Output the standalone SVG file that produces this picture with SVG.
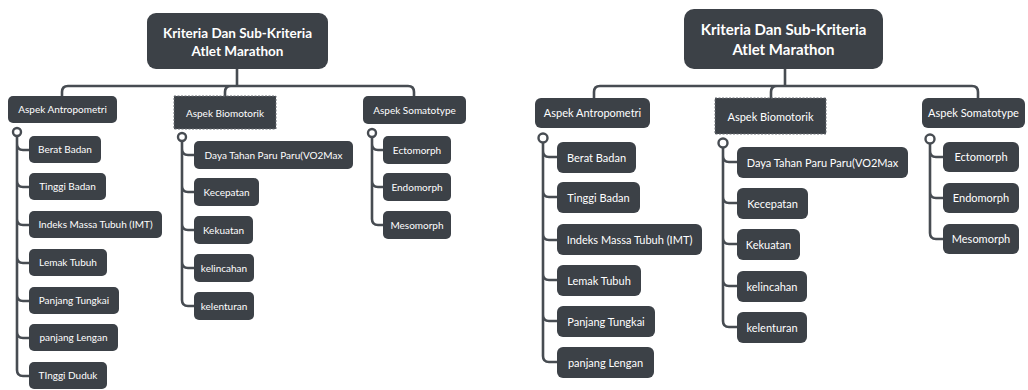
<svg xmlns="http://www.w3.org/2000/svg" width="1028" height="390" viewBox="0 0 1028 390">
<style>
.n{fill:#3c4147}
.sel{fill:#3c4147;stroke:#6a6f75;stroke-width:1;stroke-dasharray:2 1.5}
.c{fill:none;stroke:#474c52;stroke-width:2.6;stroke-linecap:round}
.o{fill:#fff;stroke:#474c52;stroke-width:2.4}
.t{fill:#fff;font-family:Lato,"Noto Sans",sans-serif;text-anchor:middle}
.s{font-size:10px}
.l{font-size:11px}
.r1{font-size:13.5px;font-weight:bold}
.r2{font-size:15px;font-weight:bold}
</style>
<rect width="1028" height="390" fill="#fff"/>
<g id="connectors">
<path class="c" d="M237,69V86M237,86H68Q62,86 62,92V96M237,86H231Q225,86 225,92V96M237,86H408Q414,86 414,92V96"/>
<path class="c" d="M17,136V144Q17,150 23,150H29M17,144V181Q17,187 23,187H29M17,181V219Q17,225 23,225H29M17,219V257Q17,263 23,263H29M17,257V295Q17,301 23,301H29M17,295V332Q17,338 23,338H29M17,332V370Q17,376 23,376H29"/>
<circle class="o" cx="17" cy="132" r="4"/>
<path class="c" d="M182,141V149Q182,155 188,155H194M182,149V186Q182,192 188,192H194M182,186V224Q182,230 188,230H194M182,224V262Q182,268 188,268H194M182,262V300Q182,306 188,306H194"/>
<circle class="o" cx="182" cy="137" r="4"/>
<path class="c" d="M372,137V144Q372,150 378,150H383M372,144V181Q372,187 378,187H383M372,181V219Q372,225 378,225H383"/>
<circle class="o" cx="372" cy="133" r="4"/>
<path class="c" d="M785,69V86M785,86H600Q594,86 594,92V98M785,86H777Q771,86 771,92V98M785,86H972Q978,86 978,92V98"/>
<path class="c" d="M543,142V151Q543,157 549,157H557M543,151V191Q543,197 549,197H557M543,191V234Q543,240 549,240H557M543,234V274Q543,280 549,280H557M543,274V315Q543,321 549,321H557M543,315V356Q543,362 549,362H557"/>
<circle class="o" cx="543" cy="138" r="4.5"/>
<path class="c" d="M723,147V156Q723,162 729,162H737M723,156V197Q723,203 729,203H737M723,197V238Q723,244 729,244H737M723,238V280Q723,286 729,286H737M723,280V321Q723,327 729,327H737"/>
<circle class="o" cx="723" cy="143" r="4.5"/>
<path class="c" d="M930,143V151Q930,157 936,157H943M930,151V192Q930,198 936,198H943M930,192V233Q930,239 936,239H943"/>
<circle class="o" cx="930" cy="139" r="4.5"/>
</g>
<g id="root-left"><rect class="n" x="147" y="13" width="181" height="56" rx="9"/><text class="t r1" x="237.5" y="37.5">Kriteria Dan Sub-Kriteria</text><text class="t r1" x="237.5" y="55.5">Atlet Marathon</text></g>
<g id="antro-left"><rect class="n" x="8" y="96" width="109" height="27" rx="5"/><text class="t s" x="62.5" y="113">Aspek Antropometri</text></g>
<g id="bio-left"><rect class="sel" x="174" y="96" width="102" height="33"/><text class="t s" x="225" y="116.5">Aspek Biomotorik</text></g>
<g id="soma-left"><rect class="n" x="363" y="96" width="103" height="28" rx="5"/><text class="t s" x="414.5" y="113.5">Aspek Somatotype</text></g>
<g id="l-berat"><rect class="n" x="29" y="136" width="72" height="27" rx="5"/><text class="t s" x="65" y="153">Berat Badan</text></g>
<g id="l-tinggi"><rect class="n" x="29" y="173" width="77" height="27" rx="5"/><text class="t s" x="67.5" y="190">Tinggi Badan</text></g>
<g id="l-imt"><rect class="n" x="29" y="211" width="133" height="27" rx="5"/><text class="t s" x="95.5" y="228">Indeks Massa Tubuh (IMT)</text></g>
<g id="l-lemak"><rect class="n" x="29" y="249" width="78" height="27" rx="5"/><text class="t s" x="68" y="266">Lemak Tubuh</text></g>
<g id="l-tungkai"><rect class="n" x="29" y="287" width="90" height="27" rx="5"/><text class="t s" x="74" y="304">Panjang Tungkai</text></g>
<g id="l-lengan"><rect class="n" x="29" y="324" width="89" height="27" rx="5"/><text class="t s" x="73.5" y="341">panjang Lengan</text></g>
<g id="l-duduk"><rect class="n" x="29" y="362" width="78" height="27" rx="5"/><text class="t s" x="68" y="379">TInggi Duduk</text></g>
<g id="l-daya"><rect class="n" x="194" y="141" width="159" height="28" rx="5"/><text class="t s" x="273.5" y="158.5">Daya Tahan Paru Paru(VO2Max</text></g>
<g id="l-kecepatan"><rect class="n" x="194" y="178" width="65" height="28" rx="5"/><text class="t s" x="226.5" y="195.5">Kecepatan</text></g>
<g id="l-kekuatan"><rect class="n" x="194" y="216" width="59" height="28" rx="5"/><text class="t s" x="223.5" y="233.5">Kekuatan</text></g>
<g id="l-kelincahan"><rect class="n" x="194" y="254" width="60" height="28" rx="5"/><text class="t s" x="224" y="271.5">kelincahan</text></g>
<g id="l-kelenturan"><rect class="n" x="194" y="292" width="60" height="28" rx="5"/><text class="t s" x="224" y="309.5">kelenturan</text></g>
<g id="l-ecto"><rect class="n" x="383" y="136" width="68" height="28" rx="5"/><text class="t s" x="417" y="153.5">Ectomorph</text></g>
<g id="l-endo"><rect class="n" x="383" y="173" width="68" height="28" rx="5"/><text class="t s" x="417" y="190.5">Endomorph</text></g>
<g id="l-meso"><rect class="n" x="383" y="211" width="68" height="28" rx="5"/><text class="t s" x="417" y="228.5">Mesomorph</text></g>
<g id="root-right"><rect class="n" x="684" y="9" width="199" height="60" rx="10"/><text class="t r2" x="783.5" y="35">Kriteria Dan Sub-Kriteria</text><text class="t r2" x="783.5" y="55">Atlet Marathon</text></g>
<g id="antro-right"><rect class="n" x="535" y="98" width="115" height="30" rx="6"/><text class="t l" x="592.5" y="117">Aspek Antropometri</text></g>
<g id="bio-right"><rect class="sel" x="715" y="98" width="111" height="36"/><text class="t l" x="770.5" y="120.5">Aspek Biomotorik</text></g>
<g id="soma-right"><rect class="n" x="922" y="98" width="103" height="30" rx="6"/><text class="t l" x="973.5" y="117">Aspek Somatotype</text></g>
<g id="r-berat"><rect class="n" x="557" y="142" width="79" height="31" rx="6"/><text class="t l" x="596.5" y="161.5">Berat Badan</text></g>
<g id="r-tinggi"><rect class="n" x="557" y="182" width="83" height="31" rx="6"/><text class="t l" x="598.5" y="201.5">Tinggi Badan</text></g>
<g id="r-imt"><rect class="n" x="557" y="224" width="145" height="31" rx="6"/><text class="t l" x="629.5" y="243.5">Indeks Massa Tubuh (IMT)</text></g>
<g id="r-lemak"><rect class="n" x="557" y="265" width="84" height="31" rx="6"/><text class="t l" x="599" y="284.5">Lemak Tubuh</text></g>
<g id="r-tungkai"><rect class="n" x="557" y="306" width="98" height="31" rx="6"/><text class="t l" x="606" y="325.5">Panjang Tungkai</text></g>
<g id="r-lengan"><rect class="n" x="557" y="347" width="97" height="31" rx="6"/><text class="t l" x="605.5" y="366.5">panjang Lengan</text></g>
<g id="r-daya"><rect class="n" x="737" y="147" width="171" height="31" rx="6"/><text class="t l" x="822.5" y="166.5">Daya Tahan Paru Paru(VO2Max</text></g>
<g id="r-kecepatan"><rect class="n" x="737" y="188" width="71" height="31" rx="6"/><text class="t l" x="772.5" y="207.5">Kecepatan</text></g>
<g id="r-kekuatan"><rect class="n" x="737" y="229" width="63" height="31" rx="6"/><text class="t l" x="768.5" y="248.5">Kekuatan</text></g>
<g id="r-kelincahan"><rect class="n" x="737" y="271" width="70" height="31" rx="6"/><text class="t l" x="772" y="290.5">kelincahan</text></g>
<g id="r-kelenturan"><rect class="n" x="737" y="312" width="70" height="31" rx="6"/><text class="t l" x="772" y="331.5">kelenturan</text></g>
<g id="r-ecto"><rect class="n" x="943" y="142" width="76" height="30" rx="6"/><text class="t l" x="981" y="161">Ectomorph</text></g>
<g id="r-endo"><rect class="n" x="943" y="183" width="76" height="30" rx="6"/><text class="t l" x="981" y="202">Endomorph</text></g>
<g id="r-meso"><rect class="n" x="943" y="224" width="76" height="30" rx="6"/><text class="t l" x="981" y="243">Mesomorph</text></g>
</svg>
